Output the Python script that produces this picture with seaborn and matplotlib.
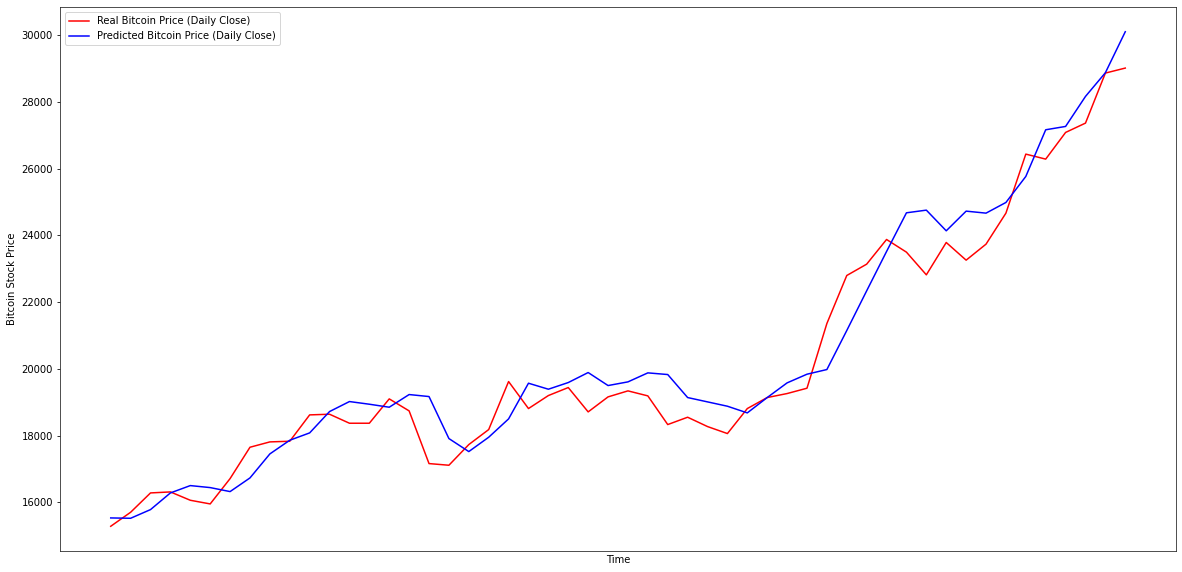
import numpy as np
import pandas as pd
import matplotlib
matplotlib.use("Agg")
import matplotlib.pyplot as plt
import seaborn as sns

real_price = [15280, 15700, 16280, 16310, 16060, 15950, 16710, 17650, 17810, 17830,
              18620, 18640, 18370, 18370, 19100, 18740, 17160, 17110, 17730, 18180,
              19620, 18810, 19200, 19440, 18710, 19160, 19340, 19190, 18330, 18550,
              18270, 18060, 18810, 19140, 19260, 19420, 21360, 22800, 23140, 23880,
              23500, 22820, 23790, 23260, 23740, 24670, 26440, 26290, 27090, 27370,
              28870, 29020]
predicted_price = [15530, 15520, 15780, 16280, 16500, 16440, 16320, 16730, 17450, 17860,
                   18080, 18720, 19020, 18940, 18850, 19230, 19170, 17910, 17520, 17950,
                   18500, 19570, 19390, 19590, 19890, 19500, 19610, 19880, 19830, 19140,
                   19010, 18880, 18680, 19140, 19580, 19840, 19980, 21150, 22340, 23520,
                   24680, 24760, 24140, 24730, 24670, 24990, 25770, 27170, 27270, 28170,
                   28880, 30110]
labels = ["Real Bitcoin Price (Daily Close)", "Predicted Bitcoin Price (Daily Close)"]

time_idx = np.arange(len(real_price))
df = pd.DataFrame({
    "Time": np.concatenate([time_idx, time_idx]),
    "Price": real_price + predicted_price,
    "Series": [labels[0]] * len(real_price) + [labels[1]] * len(predicted_price),
})

fig = plt.figure(figsize=(1182 / 72, 572 / 72), dpi=72)
ax = fig.add_axes([60 / 1182, 1 - 551 / 572, 1116 / 1182, 544 / 572])
sns.lineplot(data=df, x="Time", y="Price", hue="Series",
             palette={labels[0]: "red", labels[1]: "blue"}, ax=ax, linewidth=1.5)
ax.set_xticks([])
ax.set_xlabel("Time", fontsize=10)
ax.set_ylabel("Bitcoin Stock Price", fontsize=10)
ax.set_yticks([16000, 18000, 20000, 22000, 24000, 26000, 28000, 30000])
ax.tick_params(axis="y", labelsize=10)
ax.legend(loc="upper left", fontsize=10, title=None)
for s in ax.spines.values():
    s.set_color("#262626")
fig.savefig("out.png", dpi=72)
